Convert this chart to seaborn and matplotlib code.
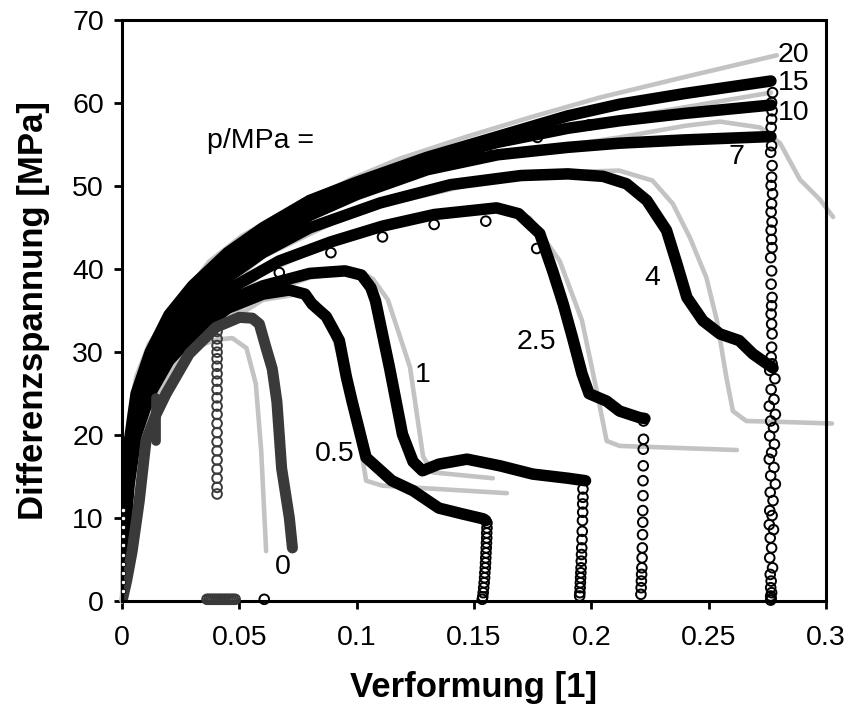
import numpy as np
import pandas as pd
import matplotlib
matplotlib.use("Agg")
import matplotlib.pyplot as plt
import seaborn as sns

# --- experimental curves (dense open circles -> thick black bands) ---
exp05_x = [0, 0.001, 0.003, 0.006, 0.012, 0.02, 0.03, 0.045, 0.06, 0.0713, 0.078, 0.081, 0.087,
           0.0926, 0.0956, 0.098, 0.104, 0.115, 0.124, 0.135, 0.145, 0.154, 0.155]
exp05_y = [0, 7, 14, 20, 25, 29, 32, 35.3, 37, 37.5, 37, 35.8, 34.3, 31.4, 27, 24.1, 17.3, 14.5,
           13.3, 11.2, 10.5, 9.9, 9.7]

exp1_x = [0, 0.001, 0.003, 0.006, 0.012, 0.02, 0.03, 0.045, 0.06, 0.08, 0.095, 0.102, 0.106, 0.108,
          0.114, 0.1195, 0.124, 0.128, 0.135, 0.147, 0.161, 0.175, 0.19, 0.1975]
exp1_y = [0, 8, 15, 21, 26, 30, 33, 36.2, 38, 39.5, 39.8, 39.3, 37.8, 36.2, 28.1, 20.1, 16.8, 15.7,
          16.5, 17.1, 16.3, 15.3, 14.8, 14.5]

exp25_x = [0, 0.001, 0.003, 0.006, 0.012, 0.02, 0.03, 0.045, 0.067, 0.089, 0.111, 0.133, 0.1596,
           0.169, 0.178, 0.1835, 0.188, 0.192, 0.196, 0.199, 0.2065, 0.212, 0.2206, 0.2228]
exp25_y = [0, 8, 15.5, 21.5, 26.5, 30.5, 33.8, 37.5, 41, 43.3, 45.2, 46.6, 47.4, 46.7, 44.3, 39.8,
           35.8, 31.7, 27.4, 25, 24.1, 22.9, 22.1, 22.0]

exp4_x = [0, 0.001, 0.003, 0.006, 0.012, 0.02, 0.03, 0.045, 0.06, 0.08, 0.11, 0.14, 0.17, 0.19,
          0.205, 0.215, 0.2236, 0.232, 0.2364, 0.2407, 0.2475, 0.2548, 0.263, 0.2688, 0.2748, 0.2774]
exp4_y = [0, 8.5, 16, 22, 27.5, 31.5, 35, 39, 42, 45, 48, 50.2, 51.3, 51.5, 51.2, 50.3, 48.3, 44.7,
          40.7, 36.6, 33.8, 32.2, 31.4, 29.8, 28.6, 28.1]

exp_hi_x = [0, 0.001, 0.003, 0.006, 0.012, 0.02, 0.03, 0.045, 0.06, 0.08, 0.1, 0.13, 0.16, 0.19,
            0.212, 0.24, 0.2765]
exp7_y = [0, 9, 17, 23, 28.5, 32.5, 36, 40, 43, 46.5, 49, 52, 53.8, 54.7, 55.2, 55.6, 56.0]
exp10_y = [0, 10, 18, 24, 29.5, 33.5, 37, 41, 44, 47.5, 50, 53, 55.3, 57, 57.9, 58.8, 59.8]
exp15_y = [0, 11, 19, 25, 30, 34.5, 38, 42, 45, 48.3, 50.5, 53.5, 56, 58.5, 59.9, 61.2, 62.7]

# p = 0 experiment (dark grey)
exp0_x = [0, 0.002, 0.0043, 0.0073, 0.0102, 0.0145, 0.0188, 0.0286, 0.040, 0.05, 0.0555, 0.0585,
          0.0614, 0.064, 0.066, 0.068, 0.0713, 0.0726]
exp0_y = [0, 2.5, 6, 12, 19.3, 22.5, 25, 29.8, 33, 34.2, 34.1, 33.4, 30.5, 28, 24, 16, 10, 6.4]
exp0_seg_x = [0.0145, 0.0145]
exp0_seg_y = [24.5, 19.3]
exp0_col_x = [0.0405] * 21
exp0_col_y = [32.5, 31.6, 30.8, 30.0, 29.2, 28.3, 27.4, 26.5, 25.5, 24.5, 23.5, 22.5, 21.4, 20.3,
              19.2, 18.1, 17.0, 15.9, 14.8, 13.7, 12.9]
exp0_zero_x = [0.0362, 0.037, 0.0378, 0.0386, 0.0394, 0.0402, 0.041, 0.0418, 0.0426, 0.0434,
               0.0442, 0.045, 0.0458, 0.0466, 0.0474, 0.0482]
exp0_zero_y = [0.2] * 16

# unloading drops (visible single circles)
drop05_x = [0.1555, 0.1555, 0.1554, 0.1554, 0.1553, 0.1552, 0.1551, 0.155, 0.1549, 0.1548, 0.1546,
            0.1545, 0.1543, 0.1541, 0.1539, 0.1537, 0.1535]
drop05_y = [9.4, 8.8, 8.2, 7.6, 7.0, 6.4, 5.8, 5.2, 4.6, 4.0, 3.4, 2.8, 2.2, 1.6, 1.0, 0.5, 0.2]
drop1_x = [0.1964, 0.1964, 0.1963, 0.1963, 0.1962, 0.1961, 0.196, 0.1959, 0.1958, 0.1957, 0.1956,
           0.1955, 0.1954, 0.1953, 0.1952, 0.1951, 0.195]
drop1_y = [13.5, 12.5, 11.7, 10.7, 9.7, 8.4, 7.4, 6.4, 5.6, 4.8, 4.0, 3.4, 2.8, 2.2, 1.6, 1.0, 0.6]
drop25_x = [0.2222, 0.2222, 0.2221, 0.2221, 0.222, 0.222, 0.2219, 0.2219, 0.2218, 0.2217, 0.2216,
            0.2215, 0.2214, 0.2213, 0.2212, 0.2211]
drop25_y = [21.7, 19.5, 18.3, 16.3, 14.5, 12.7, 10.9, 9.5, 8.0, 6.4, 5.2, 4.0, 3.2, 2.4, 1.6, 0.8]
drop_hi_x = [0.2772, 0.2768, 0.2770, 0.2768, 0.2766, 0.2768, 0.2764, 0.2770, 0.2768, 0.2766, 0.2772,
             0.2768, 0.2766, 0.2770, 0.2766, 0.2768, 0.2770, 0.2764, 0.2768, 0.2766, 0.2770, 0.2768,
             0.2766, 0.2768, 0.2770, 0.2768, 0.2766, 0.2770]
drop_hi_y = [61.3, 60.1, 59.1, 58.1, 57.1, 54.9, 54.1, 52.5, 51.1, 50.1, 49.1, 47.9, 46.9, 45.7,
             44.7, 43.6, 42.6, 41.4, 39.8, 38.2, 36.6, 35.6, 34.6, 33.4, 32.2, 30.6, 29.4, 28.6]
drop_lo_x = [0.2760, 0.2782, 0.2766, 0.2778, 0.2758, 0.2784, 0.2764, 0.2776, 0.2760, 0.2780, 0.2768,
             0.2758, 0.2778, 0.2764, 0.2784, 0.2762, 0.2774, 0.2760, 0.2770, 0.2758, 0.2776, 0.2762,
             0.2768, 0.2760, 0.2772, 0.2762, 0.2766, 0.2764, 0.2768, 0.2764, 0.2766, 0.2764]
drop_lo_y = [27.8, 26.8, 25.5, 24.3, 23.5, 22.5, 21.7, 20.9, 19.9, 18.9, 17.9, 17.1, 16.1, 15.1,
             14.1, 13.1, 12.1, 10.9, 10.3, 9.2, 8.6, 7.6, 6.4, 5.2, 4.0, 3.2, 2.4, 1.6, 1.0, 0.6, 0.3, 0.1]

# sparse circles hanging off the dense bands
sparse_x = [0.047, 0.067, 0.089, 0.111, 0.133, 0.155, 0.1767, 0.155, 0.177, 0.199, 0.0606]
sparse_y = [36.0, 39.6, 42.0, 43.9, 45.4, 45.8, 42.5, 54.1, 55.9, 57.4, 0.2]
axis_col_x = [0.0006] * 10
axis_col_y = [1.2, 2.3, 3.4, 4.5, 5.6, 6.7, 7.8, 8.9, 10.0, 11.0]

# --- simulated curves (light grey) ---
sim0_x = [0, 0.002, 0.005, 0.0115, 0.02, 0.03, 0.04, 0.047, 0.053, 0.057, 0.0593, 0.0614]
sim0_y = [0, 8, 16, 25.7, 28.5, 30.5, 31.5, 31.7, 30.5, 26.2, 18.1, 6.0]
sim05_x = [0, 0.002, 0.006, 0.012, 0.03, 0.06, 0.075, 0.083, 0.089, 0.095, 0.1, 0.1024, 0.104,
           0.111, 0.164]
sim05_y = [0, 9.5, 17.5, 23.5, 31, 36.3, 37, 36, 33, 27, 20.5, 17.3, 14.5, 13.9, 13.0]
sim1_x = [0, 0.002, 0.006, 0.012, 0.03, 0.06, 0.08, 0.095, 0.103, 0.107, 0.1133, 0.1227, 0.1283,
          0.1325, 0.158]
sim1_y = [0, 10, 18.5, 24.5, 31.5, 37, 39, 39.6, 39.5, 38.8, 36.3, 28.2, 17.4, 15.5, 14.8]
sim25_x = [0, 0.002, 0.006, 0.012, 0.03, 0.06, 0.1, 0.13, 0.155, 0.1737, 0.1865, 0.196, 0.2023,
           0.2065, 0.212, 0.262]
sim25_y = [0, 11, 20, 26, 33, 39.5, 44.6, 46.6, 47.3, 46.2, 41, 33.8, 25.3, 19.3, 18.7, 18.2]
sim4_x = [0, 0.002, 0.006, 0.012, 0.03, 0.06, 0.1, 0.15, 0.18, 0.2118, 0.226, 0.2347, 0.242, 0.249,
          0.2535, 0.2575, 0.2603, 0.266, 0.28, 0.3025]
sim4_y = [0, 12, 21.5, 27, 34.5, 41.5, 47, 50.3, 51.6, 51.9, 50.7, 47.9, 43.8, 39, 33.8, 27, 22.9,
          21.7, 21.6, 21.4]
sim7_x = [0, 0.002, 0.006, 0.012, 0.03, 0.06, 0.1, 0.15, 0.212, 0.24, 0.2548, 0.2719, 0.2804,
          0.2889, 0.2974, 0.303]
sim7_y = [0, 13, 23, 28.5, 36.5, 43.5, 49.2, 53.3, 55.9, 57.3, 57.8, 57.1, 55.2, 50.8, 48.4, 46.3]
sim10_x = [0, 0.002, 0.006, 0.012, 0.03, 0.06, 0.1, 0.15, 0.212, 0.2765]
sim10_y = [0, 14, 24, 29.5, 37.5, 44.5, 50.3, 54.5, 58.2, 61.3]
sim20_x = [0, 0.001, 0.003, 0.006, 0.0115, 0.023, 0.037, 0.051, 0.066, 0.087, 0.097, 0.118, 0.147,
           0.175, 0.2035, 0.24, 0.279]
sim20_y = [0, 13, 22, 27, 31, 35.6, 40.9, 44, 46.4, 49.3, 50.8, 53.3, 56.0, 58.4, 60.7, 63.2, 65.8]

# curve labels
label_text = ["20", "15", "10", "7", "4", "2.5", "1", "0.5", "0"]
label_x = [0.286, 0.286, 0.286, 0.262, 0.226, 0.1764, 0.1283, 0.0908, 0.0686]
label_y = [65.8, 62.5, 58.9, 53.5, 38.9, 31.2, 27.2, 17.7, 4.1]

x_ticks = [0, 0.05, 0.1, 0.15, 0.2, 0.25, 0.3]
x_tick_labels = ["0", "0.05", "0.1", "0.15", "0.2", "0.25", "0.3"]
y_ticks = [0, 10, 20, 30, 40, 50, 60, 70]

sns.set_theme(style="ticks")
plt.rcParams['font.family'] = ['Liberation Sans', 'DejaVu Sans']

fig = plt.figure(figsize=(8.51, 7.18), dpi=100)
ax = fig.add_axes([0.1434, 0.1630, 0.8273, 0.8085])

GREY = '#c3c3c3'
DARK = '#3a3a3a'
FS = 20.5

sims = [(sim0_x, sim0_y), (sim05_x, sim05_y), (sim1_x, sim1_y), (sim25_x, sim25_y),
        (sim4_x, sim4_y), (sim7_x, sim7_y), (sim10_x, sim10_y), (sim20_x, sim20_y)]
for sx, sy in sims:
    sns.lineplot(x=sx, y=sy, sort=False, estimator=None, color=GREY, lw=3.3, ax=ax,
                 solid_capstyle='round', solid_joinstyle='round', clip_on=False)

exps = [(exp05_x, exp05_y), (exp1_x, exp1_y), (exp25_x, exp25_y), (exp4_x, exp4_y),
        (exp_hi_x, exp7_y), (exp_hi_x, exp10_y), (exp_hi_x, exp15_y)]
for ex, ey in exps:
    sns.lineplot(x=ex, y=ey, sort=False, estimator=None, color='black', lw=8.3, ax=ax,
                 solid_capstyle='round', solid_joinstyle='round')

sns.lineplot(x=exp0_x, y=exp0_y, sort=False, estimator=None, color=DARK, lw=8, ax=ax,
             solid_capstyle='round', solid_joinstyle='round')
sns.lineplot(x=exp0_seg_x, y=exp0_seg_y, sort=False, estimator=None, color=DARK, lw=7, ax=ax,
             solid_capstyle='round')

circ = dict(s=48, facecolor='none', linewidth=1.4, ax=ax, clip_on=False, zorder=5)
sns.scatterplot(x=exp0_col_x, y=exp0_col_y, edgecolor=DARK, **circ)
sns.scatterplot(x=exp0_zero_x, y=exp0_zero_y, edgecolor=DARK, **circ)
for dx, dy in [(drop05_x, drop05_y), (drop1_x, drop1_y), (drop25_x, drop25_y),
               (drop_hi_x, drop_hi_y), (drop_lo_x, drop_lo_y), (sparse_x, sparse_y)]:
    sns.scatterplot(x=dx, y=dy, edgecolor='black', **circ)
sns.scatterplot(x=axis_col_x, y=axis_col_y, s=10, facecolor='white', edgecolor='black',
                linewidth=0.6, ax=ax, clip_on=False, zorder=5)

for t, lx, ly in zip(label_text, label_x, label_y):
    ax.text(lx, ly, t, fontsize=FS, ha='center', va='center', color='black', zorder=6)
ax.text(0.0362, 55.5, "p/MPa =", fontsize=FS, ha='left', va='center', color='black')

ax.set_xlim(0, 0.3)
ax.set_ylim(0, 70)
ax.set_xticks(x_ticks)
ax.set_xticklabels(x_tick_labels)
ax.set_yticks(y_ticks)
ax.tick_params(axis='both', direction='out', length=6, width=2, labelsize=FS, colors='black')
ax.tick_params(axis='x', pad=11)
ax.tick_params(axis='y', pad=7)
for sp in ax.spines.values():
    sp.set_linewidth(2.2)
    sp.set_color('black')
    sp.set_visible(True)

ax.set_xlabel('Verformung [1]', fontsize=25, fontweight='bold', labelpad=15, color='black')
ax.set_ylabel('Differenzspannung [MPa]', fontsize=25, fontweight='bold', labelpad=16, color='black')
ax.set_facecolor('white')
fig.patch.set_facecolor('white')

fig.savefig('out.png', dpi=100)
